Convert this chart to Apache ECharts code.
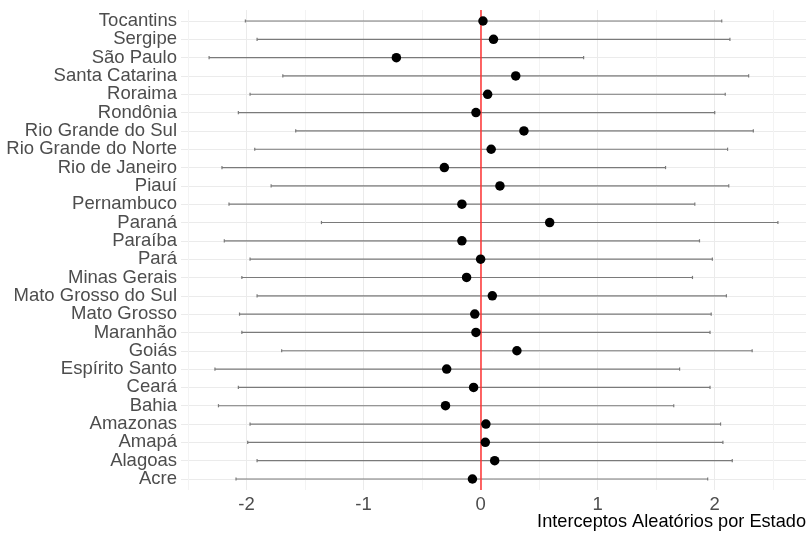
<!DOCTYPE html>
<html>
<head>
<meta charset="utf-8">
<script src="https://cdn.jsdelivr.net/npm/echarts@6/dist/echarts.min.js"></script>
<style>html,body{margin:0;padding:0;background:#fff;}#c{width:808px;height:534px;}</style>
</head>
<body>
<div id="c"></div>
<script>
// States (bottom to top on the chart)
const states = ['Acre','Alagoas','Amapá','Amazonas','Bahia','Ceará','Espírito Santo','Goiás','Maranhão','Mato Grosso','Mato Grosso do Sul','Minas Gerais','Pará','Paraíba','Paraná','Pernambuco','Piauí','Rio de Janeiro','Rio Grande do Norte','Rio Grande do Sul','Rondônia','Roraima','Santa Catarina','São Paulo','Sergipe','Tocantins'];
const estimates = [-0.07,0.12,0.04,0.045,-0.30,-0.06,-0.29,0.31,-0.04,-0.05,0.10,-0.12,0.00,-0.16,0.59,-0.16,0.165,-0.31,0.09,0.37,-0.04,0.06,0.30,-0.72,0.11,0.02];
const lower = [-2.09,-1.91,-1.99,-1.97,-2.24,-2.07,-2.27,-1.70,-2.04,-2.06,-1.91,-2.04,-1.97,-2.19,-1.36,-2.15,-1.79,-2.21,-1.93,-1.58,-2.07,-1.97,-1.69,-2.32,-1.91,-2.01];
const upper = [1.94,2.15,2.07,2.05,1.65,1.96,1.70,2.32,1.96,1.97,2.10,1.81,1.98,1.87,2.54,1.83,2.12,1.58,2.11,2.33,2.00,2.09,2.29,0.88,2.13,2.06];
const xTicks = [-2,-1,0,1,2];
const xMinorTicks = [-2.5,-1.5,-0.5,0.5,1.5,2.5];
const refLine = 0;
const xTitle = 'Interceptos Aleatórios por Estado';

const idx = states.map((_, i) => i);
const font = '"Liberation Sans", Arial, Helvetica, sans-serif';

// plot panel geometry (ggplot-style 0.6 category expansion)
const panelTop = 10, panelBottom = 44, panelH = 534 - panelTop - panelBottom;
const band = panelH / (states.length + 0.2);
const pad = 0.1 * band;

const chart = echarts.init(document.getElementById('c'), null, {renderer: 'canvas'});
chart.setOption({
  backgroundColor: '#ffffff',
  animation: false,
  title: {
    text: xTitle, right: 2, top: 513, padding: 0,
    textStyle: {fontSize: 18.2, fontWeight: 'normal', color: '#000', fontFamily: font}
  },
  grid: [
    {left: 181, right: 2, top: panelTop, bottom: panelBottom, containLabel: false, outerBoundsMode: 'none'},
    {left: 181, right: 2, top: panelTop + pad, bottom: panelBottom + pad, containLabel: false, outerBoundsMode: 'none'}
  ],
  xAxis: [{
    type: 'value', gridIndex: 0, min: -2.56, max: 2.78,
    axisLine: {show: false},
    axisTick: {show: false, customValues: xTicks},
    axisLabel: {customValues: xTicks, formatter: v => String(v), color: '#4d4d4d', fontSize: 18.5, fontFamily: font, margin: 5, showMinLabel: true, showMaxLabel: true, hideOverlap: false},
    splitLine: {show: true, lineStyle: {color: '#ebebeb', width: 1}}
  }, {
    type: 'value', gridIndex: 0, min: -2.56, max: 2.78,
    axisLine: {show: false},
    axisTick: {show: false, customValues: xMinorTicks},
    axisLabel: {show: false, customValues: xMinorTicks},
    splitLine: {show: true, lineStyle: {color: '#f3f3f3', width: 1}}
  }, {
    type: 'value', gridIndex: 1, min: -2.56, max: 2.78, show: false,
    splitLine: {show: false}
  }],
  yAxis: [{
    type: 'value', gridIndex: 0, min: -0.6, max: states.length - 0.4,
    axisLine: {show: false},
    axisTick: {show: false, customValues: idx},
    axisLabel: {show: false, customValues: idx},
    splitLine: {show: true, lineStyle: {color: '#ebebeb', width: 1}}
  }, {
    type: 'category', gridIndex: 1, data: states, boundaryGap: true,
    axisLine: {show: false},
    axisTick: {show: false},
    splitLine: {show: false},
    axisLabel: {interval: 0, color: '#4d4d4d', fontSize: 18.5, fontFamily: font, margin: 4}
  }],
  series: [{
    type: 'custom',
    xAxisIndex: 0, yAxisIndex: 0,
    data: idx.map(i => [lower[i], upper[i], i]),
    renderItem: function (params, api) {
      const lo = api.coord([api.value(0), api.value(2)]);
      const hi = api.coord([api.value(1), api.value(2)]);
      const st = {stroke: '#7a7a7a', lineWidth: 1.2};
      const h = 1.6;
      return {type: 'group', children: [
        {type: 'line', shape: {x1: lo[0], y1: lo[1], x2: hi[0], y2: hi[1]}, style: st},
        {type: 'line', shape: {x1: lo[0], y1: lo[1] - h, x2: lo[0], y2: lo[1] + h}, style: st},
        {type: 'line', shape: {x1: hi[0], y1: hi[1] - h, x2: hi[0], y2: hi[1] + h}, style: st}
      ]};
    },
    encode: {x: [0, 1], y: 2},
    z: 2
  }, {
    type: 'scatter',
    xAxisIndex: 0, yAxisIndex: 0,
    data: idx.map(i => [estimates[i], i]),
    symbol: 'circle', symbolSize: 9.5,
    itemStyle: {color: '#000000', opacity: 1},
    z: 4,
    markLine: {
      silent: true, symbol: 'none', label: {show: false},
      lineStyle: {color: '#ff3333', width: 1.5, type: 'solid'},
      data: [{xAxis: refLine}],
      z: 3
    }
  }]
});
</script>
</body>
</html>
